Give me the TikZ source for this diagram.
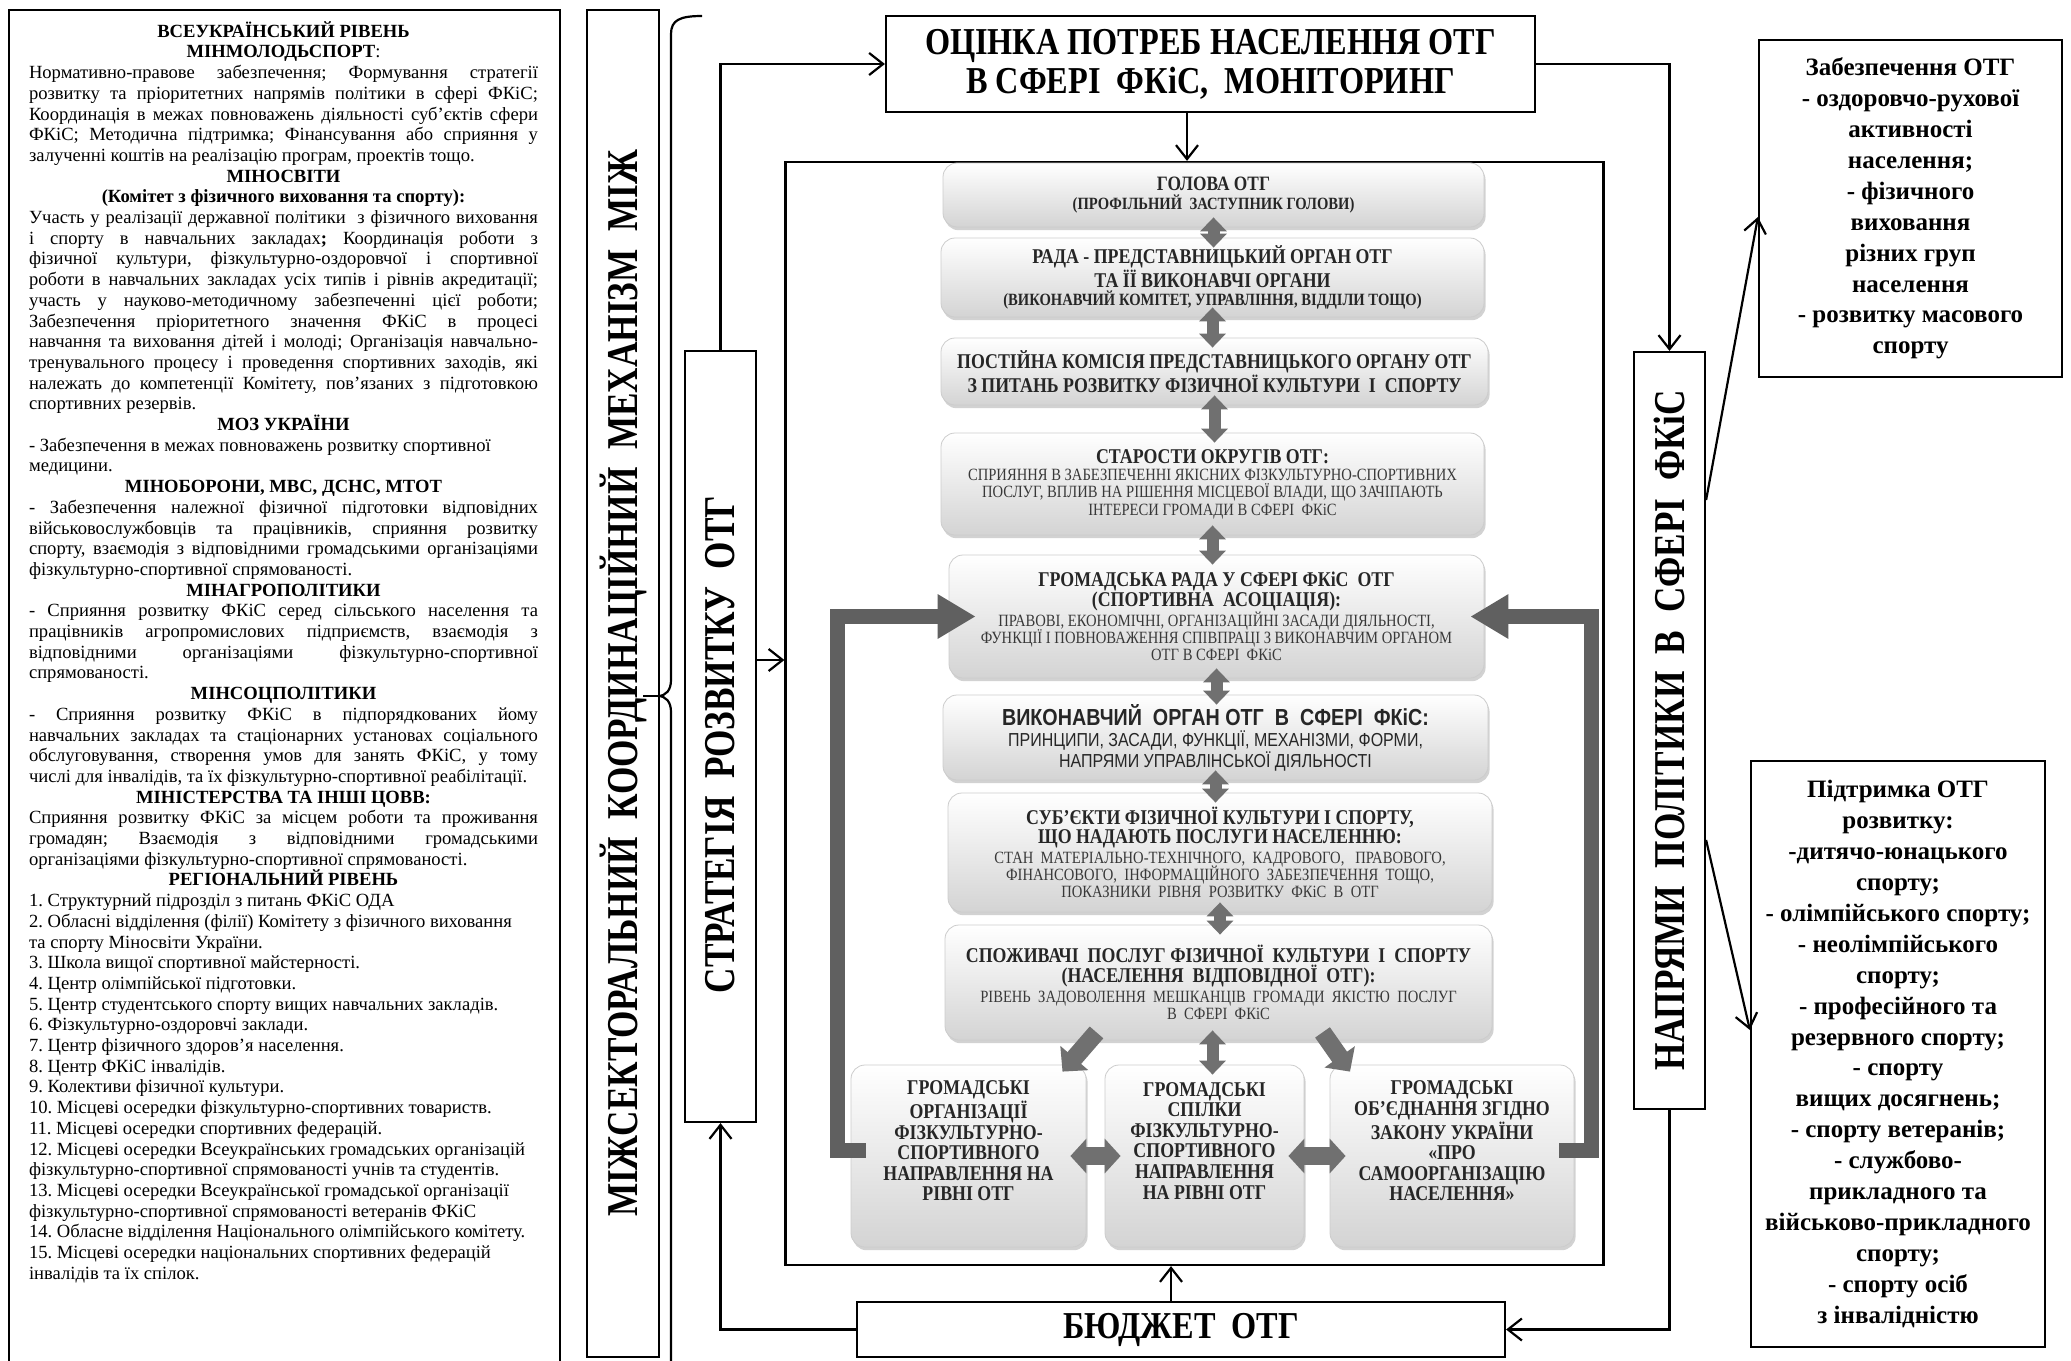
\documentclass[tikz,border=0pt]{standalone}
\usepackage{fontspec}
\setmainfont{Liberation Serif}
\newfontfamily\narrowserif[FakeStretch=0.85]{Liberation Serif}
\newfontfamily\narrowsans[FakeStretch=0.85]{Liberation Sans}
\newfontfamily\vertserif[FakeStretch=0.8]{Liberation Serif}
\usetikzlibrary{arrows.meta,shadows,positioning,calc}

\definecolor{barGray}{RGB}{96,96,96}
\definecolor{arrGray}{RGB}{112,112,112}
\definecolor{boxText}{RGB}{38,38,38}

% font of the left panel
\newcommand{\paneltext}{\fontsize{9.3}{10.35}\selectfont\frenchspacing}
% justified and centred lines of the left panel
\newcommand{\jline}[1]{#1\linebreak}
\newcommand{\ctitle}[1]{\makebox[\hsize][c]{\bfseries #1}\\}
% fonts of the grey boxes
\newcommand{\boxhead}{\fontsize{10.5}{10}\narrowserif\bfseries}
\newcommand{\boxsub}{\fontsize{8.6}{9}\narrowserif\color{black!78}}
\newcommand{\boxsubb}{\fontsize{8.6}{9}\narrowserif\bfseries}

\begin{document}
\begin{tikzpicture}[x=0.5pt, y=-0.5pt,
    plainbox/.style={draw, line width=1.1pt, inner sep=0pt},
    vlabel/.style={rotate=90, inner sep=0pt, font=\fontsize{22}{22}\vertserif\bfseries},
    sidebox/.style={draw, line width=1.1pt, align=center, inner sep=0pt,
        font=\fontsize{12.5}{15.45}\selectfont\bfseries},
    cbox/.style={rectangle, rounded corners=7pt, draw=black!20, line width=0.4pt,
        top color=white, bottom color=black!17,
        drop shadow={shadow xshift=0.8pt, shadow yshift=-1.6pt, opacity=0.35},
        text=boxText, align=center, inner sep=2pt, font=\fontsize{9}{9.8}\selectfont},
    arr/.style={line width=1.1pt, -{Straight Barb[length=7pt,width=11pt]}},
    dblarrow/.style={draw=arrGray, line width=6pt,
        {Triangle[length=7pt,width=13pt]}-{Triangle[length=7pt,width=13pt]},
        shorten <=-5pt, shorten >=-5pt},
    hdblarrow/.style={draw=arrGray, line width=9pt,
        {Triangle[length=8pt,width=17pt]}-{Triangle[length=8pt,width=17pt]},
        shorten <=-8pt, shorten >=-8pt},
    diagarrow/.style={draw=arrGray, line width=9pt, -{Triangle[length=9pt,width=18pt]}},
    bar/.style={draw=barGray, line width=7.5pt, -{Triangle[length=19pt,width=21pt]}}
]
\useasboundingbox (0,0) rectangle (2071,1360);
\fill[white] (0,0) rectangle (2071,1360);

% left panel
\node[plainbox, line width=1pt, minimum width=275.5pt, minimum height=681pt] (levels) at (284.5,691) {};
\node[anchor=north, inner sep=0pt, text width=254.5pt, align=justify, font=\paneltext]
      (levelsText) at (283.5,21) {%
\ctitle{ВСЕУКРАЇНСЬКИЙ РІВЕНЬ}
\ctitle{МІНМОЛОДЬСПОРТ{\mdseries :}}
\jline{Нормативно-правове забезпечення; Формування стратегії}
\jline{розвитку та пріоритетних напрямів політики в сфері ФКіС;}
\jline{Координація в межах повноважень діяльності суб’єктів сфери}
\jline{ФКіС; Методична підтримка; Фінансування або сприяння у}
залученні коштів на реалізацію програм, проектів тощо.\\
\ctitle{МІНОСВІТИ}
\ctitle{(Комітет з фізичного виховання та спорту):}
\jline{Участь у реалізації державної політики \ з фізичного виховання}
\jline{і спорту в навчальних закладах\textbf{;} Координація роботи з}
\jline{фізичної культури, фізкультурно-оздоровчої і спортивної}
\jline{роботи в навчальних закладах усіх типів і рівнів акредитації;}
\jline{участь у науково-методичному забезпеченні цієї роботи;}
\jline{Забезпечення пріоритетного значення ФКіС в процесі}
\jline{навчання та виховання дітей і молоді; Організація навчально-}
\jline{тренувального процесу і проведення спортивних заходів, які}
\jline{належать до компетенції Комітету, пов'язаних з підготовкою}
спортивних резервів.\\
\ctitle{МОЗ УКРАЇНИ}
- Забезпечення в межах повноважень розвитку спортивної\\
медицини.\\
\ctitle{МІНОБОРОНИ, МВС, ДСНС, МТОТ}
\jline{- Забезпечення належної фізичної підготовки відповідних}
\jline{військовослужбовців та працівників, сприяння розвитку}
\jline{спорту, взаємодія з відповідними громадськими організаціями}
фізкультурно-спортивної спрямованості.\\
\ctitle{МІНАГРОПОЛІТИКИ}
\jline{- Сприяння розвитку ФКіС серед сільського населення та}
\jline{працівників агропромислових підприємств, взаємодія з}
\jline{відповідними організаціями фізкультурно-спортивної}
спрямованості.\\
\ctitle{МІНСОЦПОЛІТИКИ}
\jline{- Сприяння розвитку ФКіС в підпорядкованих йому}
\jline{навчальних закладах та стаціонарних установах соціального}
\jline{обслуговування, створення умов для занять ФКіС, у тому}
числі для інвалідів, та їх фізкультурно-спортивної реабілітації.\\
\ctitle{МІНІСТЕРСТВА ТА ІНШІ ЦОВВ:}
\jline{Сприяння розвитку ФКіС за місцем роботи та проживання}
\jline{громадян; Взаємодія з відповідними громадськими}
організаціями фізкультурно-спортивної спрямованості.\\
\ctitle{РЕГІОНАЛЬНИЙ РІВЕНЬ}
1. Структурний підрозділ з питань ФКіС ОДА\\
2. Обласні відділення (філії) Комітету з фізичного виховання\\
та спорту Міносвіти України.\\
3. Школа вищої спортивної майстерності.\\
4. Центр олімпійської підготовки.\\
5. Центр студентського спорту вищих навчальних закладів.\\
6. Фізкультурно-оздоровчі заклади.\\
7. Центр фізичного здоров'я населення.\\
8. Центр ФКіС інвалідів.\\
9. Колективи фізичної культури.\\
10. Місцеві осередки фізкультурно-спортивних товариств.\\
11. Місцеві осередки спортивних федерацій.\\
12. Місцеві осередки Всеукраїнських громадських організацій\\
фізкультурно-спортивної спрямованості учнів та студентів.\\
13. Місцеві осередки Всеукраїнської громадської організації\\
фізкультурно-спортивної спрямованості ветеранів ФКіС\\
14. Обласне відділення Національного олімпійського комітету.\\
15. Місцеві осередки національних спортивних федерацій\\
інвалідів та їх спілок.};

% vertical boxes
\node[plainbox, minimum width=36pt, minimum height=673.5pt] (mizh) at (623,683.5) {};
\node[vlabel] (mizhText) at (mizh) {МІЖСЕКТОРАЛЬНИЙ\ \ КООРДИНАЦІЙНИЙ\ \ МЕХАНІЗМ\ \ МІЖ};
\node[plainbox, minimum width=35.5pt, minimum height=385.5pt] (strat) at (720.5,736.5) {};
\node[vlabel] (stratText) at ([yshift=-4pt]strat.center) {СТРАТЕГІЯ\ \ РОЗВИТКУ\ \ ОТГ};
\node[plainbox, minimum width=35.5pt, minimum height=378.5pt] (napr) at (1669.5,730.5) {};
\node[vlabel] (naprText) at (napr) {НАПРЯМИ\ \ ПОЛІТИКИ\ \ В\ \ СФЕРІ\ \ ФКіС};

% brace
\coordinate (braceTip) at (658,696);
\draw[line width=1.1pt] (702,16) .. controls (680,16) and (671,20) .. (671,34) -- (671,680)
    .. controls (671,690) and (666,696) .. (braceTip)
    .. controls (666,696) and (671,702) .. (671,712) -- (671,1375);
\draw[line width=1.1pt] (braceTip) -- ++(-7.5pt,0);

% top, bottom and frame
\node[plainbox, minimum width=324.5pt, minimum height=48pt, align=center,
      font=\fontsize{19}{19.5}\narrowserif\bfseries] (ocinka) at (1210.5,64)
      {ОЦІНКА ПОТРЕБ НАСЕЛЕННЯ ОТГ\\В СФЕРІ\ \ ФКіС,\ \ МОНІТОРИНГ};
\node[plainbox, minimum width=409pt, minimum height=551.5pt] (frame) at (1194.5,713.5) {};
\node[plainbox, minimum width=324pt, minimum height=27.5pt,
      font=\fontsize{19}{19}\narrowserif\bfseries] (budget) at (1181,1329.5) {БЮДЖЕТ\ \ ОТГ};

% right boxes
\node[sidebox, minimum width=151.5pt, minimum height=168.5pt] (zab) at (1910.5,208.5)
    {Забезпечення ОТГ\\- оздоровчо-рухової\\активності\\населення;\\- фізичного\\виховання\\різних груп\\населення\\- розвитку масового\\спорту};
\node[sidebox, minimum width=147pt, minimum height=293pt] (pidtr) at (1898,1054)
    {Підтримка ОТГ\\розвитку:\\-дитячо-юнацького\\спорту;\\- олімпійського спорту;\\- неолімпійського\\спорту;\\- професійного та\\резервного спорту;\\- спорту\\вищих досягнень;\\- спорту ветеранів;\\- службово-\\прикладного та\\військово-прикладного\\спорту;\\- спорту осіб\\з інвалідністю};

% grey boxes inside the frame
\node[cbox, minimum width=270.5pt, minimum height=32pt] (golova) at (1213.5,195)
    {{\fontsize{10.2}{10}\narrowserif\bfseries ГОЛОВА ОТГ}\\[-0.5pt]{\boxsubb (ПРОФІЛЬНИЙ\ \ ЗАСТУПНИК ГОЛОВИ)}};
\node[cbox, minimum width=271.5pt, minimum height=39.5pt] (rada) at (1212.5,277.5)
    {{\boxhead РАДА - ПРЕДСТАВНИЦЬКИЙ ОРГАН ОТГ}\\{\boxhead ТА ЇЇ ВИКОНАВЧІ ОРГАНИ}\\[-1pt]{\boxsubb (ВИКОНАВЧИЙ КОМІТЕТ, УПРАВЛІННЯ, ВІДДІЛИ ТОЩО)}};
\node[cbox, minimum width=273.5pt, minimum height=33.5pt] (komisia) at (1214.5,371.5)
    {{\boxhead ПОСТІЙНА КОМІСІЯ ПРЕДСТАВНИЦЬКОГО ОРГАНУ ОТГ}\\{\boxhead З ПИТАНЬ РОЗВИТКУ ФІЗИЧНОЇ КУЛЬТУРИ\ \ І\ \ СПОРТУ}};
\node[cbox, minimum width=271.5pt, minimum height=51pt] (starosty) at (1212.5,484)
    {{\boxhead СТАРОСТИ ОКРУГІВ ОТГ:}\\[-1pt]{\boxsub СПРИЯННЯ В ЗАБЕЗПЕЧЕННІ ЯКІСНИХ ФІЗКУЛЬТУРНО-СПОРТИВНИХ}\\[-1.2pt]{\boxsub ПОСЛУГ, ВПЛИВ НА РІШЕННЯ МІСЦЕВОЇ ВЛАДИ, ЩО ЗАЧІПАЮТЬ}\\[-1.2pt]{\boxsub ІНТЕРЕСИ ГРОМАДИ В СФЕРІ\ \ ФКіС}};
\node[cbox, minimum width=267.5pt, minimum height=61.5pt] (grada) at (1216.5,616.5)
    {{\boxhead ГРОМАДСЬКА РАДА У СФЕРІ ФКіС\ \ ОТГ}\\{\boxhead (СПОРТИВНА\ \ АСОЦІАЦІЯ):}\\{\boxsub ПРАВОВІ, ЕКОНОМІЧНІ, ОРГАНІЗАЦІЙНІ ЗАСАДИ ДІЯЛЬНОСТІ,}\\[-1.2pt]{\boxsub ФУНКЦІЇ І ПОВНОВАЖЕННЯ СПІВПРАЦІ З ВИКОНАВЧИМ ОРГАНОМ}\\[-1.2pt]{\boxsub ОТГ В СФЕРІ\ \ ФКіС}};
\node[cbox, minimum width=272.5pt, minimum height=42.5pt] (vykon) at (1215.5,737.5)
    {{\fontsize{11.6}{10}\narrowsans\bfseries ВИКОНАВЧИЙ\ \ ОРГАН ОТГ\ \ В\ \ СФЕРІ\ \ ФКіС:}\\[1pt]{\fontsize{9.4}{9}\narrowsans ПРИНЦИПИ, ЗАСАДИ, ФУНКЦІЇ, МЕХАНІЗМИ, ФОРМИ,}\\[0.5pt]{\fontsize{9.4}{9}\narrowsans НАПРЯМИ УПРАВЛІНСЬКОЇ ДІЯЛЬНОСТІ}};
\node[cbox, minimum width=272pt, minimum height=59.5pt] (subjekty) at (1220,852.5)
    {{\boxhead СУБ’ЄКТИ ФІЗИЧНОЇ КУЛЬТУРИ І СПОРТУ,}\\{\boxhead ЩО НАДАЮТЬ ПОСЛУГИ НАСЕЛЕННЮ:}\\{\boxsub СТАН\ \ МАТЕРІАЛЬНО-ТЕХНІЧНОГО,\ \ КАДРОВОГО,\ \ \ ПРАВОВОГО,}\\[-1.2pt]{\boxsub ФІНАНСОВОГО,\ \ ІНФОРМАЦІЙНОГО\ \ ЗАБЕЗПЕЧЕННЯ\ \ ТОЩО,}\\[-1.2pt]{\boxsub ПОКАЗНИКИ\ \ РІВНЯ\ \ РОЗВИТКУ\ \ ФКіС\ \ В\ \ ОТГ}};
\node[cbox, minimum width=273.5pt, minimum height=57.5pt] (spozh) at (1218.5,982.5)
    {{\boxhead СПОЖИВАЧІ\ \ ПОСЛУГ ФІЗИЧНОЇ\ \ КУЛЬТУРИ\ \ І\ \ СПОРТУ}\\{\boxhead (НАСЕЛЕННЯ\ \ ВІДПОВІДНОЇ\ \ ОТГ):}\\{\boxsub РІВЕНЬ\ \ ЗАДОВОЛЕННЯ\ \ МЕШКАНЦІВ\ \ ГРОМАДИ\ \ ЯКІСТЮ\ \ ПОСЛУГ}\\[-1.2pt]{\boxsub В\ \ СФЕРІ\ \ ФКіС}};
\node[cbox, minimum width=117.5pt, minimum height=91pt, font=\fontsize{10.5}{10.3}\narrowserif\bfseries] (orgs) at (968.5,1156)
    {ГРОМАДСЬКІ\\ОРГАНІЗАЦІЇ\\ФІЗКУЛЬТУРНО-\\СПОРТИВНОГО\\НАПРАВЛЕННЯ НА\\РІВНІ ОТГ\\[5pt]};
\node[cbox, minimum width=99.5pt, minimum height=91pt, font=\fontsize{10.5}{10.3}\narrowserif\bfseries] (spilky) at (1204.5,1156)
    {ГРОМАДСЬКІ\\СПІЛКИ\\ФІЗКУЛЬТУРНО-\\СПОРТИВНОГО\\НАПРАВЛЕННЯ\\НА РІВНІ ОТГ\\[5pt]};
\node[cbox, minimum width=122pt, minimum height=91pt, font=\fontsize{10.5}{10.3}\narrowserif\bfseries] (obyed) at (1452,1156)
    {ГРОМАДСЬКІ\\ОБ’ЄДНАННЯ ЗГІДНО\\ЗАКОНУ УКРАЇНИ\\«ПРО\\САМООРГАНІЗАЦІЮ\\НАСЕЛЕННЯ»\\[5pt]};

% block arrows between the grey boxes
\draw[dblarrow] (golova.south) -- (golova.south |- rada.north);
\draw[dblarrow] (rada.south) -- (rada.south |- komisia.north);
\draw[dblarrow] (komisia.south) -- (komisia.south |- starosty.north);
\draw[dblarrow] (starosty.south) -- (starosty.south |- grada.north);
\draw[dblarrow] (grada.south) -- (grada.south |- vykon.north);
\draw[dblarrow] (vykon.south) -- (vykon.south |- subjekty.north);
\draw[dblarrow] (subjekty.south) -- (subjekty.south |- spozh.north);
\draw[dblarrow] ([xshift=-3pt]spozh.south) -- ([xshift=-3pt]spozh.south |- spilky.north);
\draw[diagarrow] ([xshift=-61pt,yshift=4pt]spozh.south) -- ([xshift=47pt,yshift=-3.5pt]orgs.north);
\draw[diagarrow] ([xshift=52pt,yshift=4pt]spozh.south) -- ([xshift=-51pt,yshift=-3.5pt]obyed.north);
\draw[hdblarrow] (orgs.east |- spilky.west) -- (spilky.west);
\draw[hdblarrow] (spilky.east) -- (obyed.west |- spilky.east);

% feedback bars
\draw[bar] ([xshift=7.5pt,yshift=3pt]orgs.west) -- ++(-14pt,0) |- ([xshift=13.5pt]grada.west);
\draw[bar] ([xshift=-7.5pt,yshift=3pt]obyed.east) -- ++(16pt,0) |- ([xshift=-7pt]grada.east);

% connectors
\coordinate (stratOut) at ([yshift=38.25pt]strat.east);
\coordinate (ocinkaOut) at ([xshift=-11.75pt]ocinka.south);
\coordinate (budgetOut) at ([xshift=-5pt]budget.north);
\draw[arr] (strat.north) |- (ocinka.west);
\draw[arr] (stratOut) -- (stratOut -| frame.west);
\draw[arr] (ocinkaOut) -- (ocinkaOut |- frame.north);
\draw[arr] (ocinka.east) -| (napr.north);
\draw[arr] (napr.south) |- (budget.east);
\draw[arr] (budgetOut) -- (budgetOut |- frame.south);
\draw[arr] (budget.west) -| (strat.south);
\draw[arr] ([yshift=115.25pt]napr.east) -- ([yshift=-4.25pt]zab.west);
\draw[arr] ([yshift=-54.75pt]napr.east) -- ([yshift=12pt]pidtr.west);
\end{tikzpicture}
\end{document}
